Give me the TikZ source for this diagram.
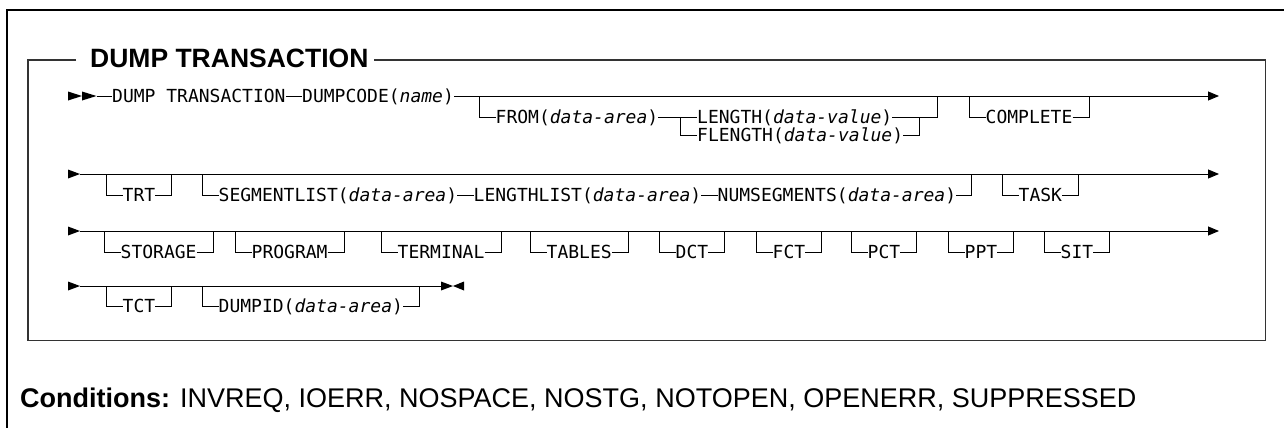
\documentclass[tikz,border=0pt]{standalone}
\usepackage{fontspec}
\setmainfont{Liberation Sans}
\newfontfamily\diagmono{DejaVu Sans Mono}
\usetikzlibrary{arrows.meta,calc}
\newcommand\optitem[5]{%
  \node[kw] (#1) at (#2,#3) {#4};
  \draw[ln] (#1.west) -- ++(-16.5,0) -- ++(0,-#5);
  \draw[ln] (#1.east) -- ++(16.5,0) -- ++(0,-#5);}
\begin{document}
\begin{tikzpicture}[x=1pt,y=-1pt,
  ln/.style={line width=0.9pt},
  kw/.style={font=\diagmono\fontsize{18pt}{18pt}\selectfont, inner sep=0pt, text height=13.1pt, text depth=0pt, anchor=west},
  endarr/.style={-{Triangle[length=11pt,width=9pt]}},
  frame/.style={line width=1.3pt, draw=black!80},
  outer/.style={line width=1.6pt, draw=black},
  tri/.style={fill=black}]
\useasboundingbox (0,0) rectangle (1284,428);
\fill[white] (0,0) rectangle (1284,428);
% outer frame
\draw[outer] (1284,10) -- (7,10) -- (7,428);
% title and inner frame
\node[font=\bfseries\fontsize{26.5pt}{26.5pt}\selectfont, inner sep=0pt, anchor=base west] (title) at (90,67.5) {DUMP TRANSACTION};
\coordinate (tl) at (28,60);
\coordinate (br) at (1265.5,340.5);
\draw[frame] ($(tl -| title.west)+(-14,0)$) -- (tl) -- (tl |- br) -- (br) -- (br |- tl) -- ($(tl -| title.east)+(5,0)$);

% ---------- row 1
\fill[tri] (68,91.5) -- (82,96) -- (68,100.5) -- cycle;
\fill[tri] (82,91.5) -- (96.5,96) -- (82,100.5) -- cycle;
\coordinate (s1) at (96.5,96);
\coordinate (e1) at (1219,96);
\node[kw] (dt) at (112,96) {DUMP TRANSACTION};
\node[kw] (dc) at (302,96) {DUMPCODE(\textit{name})};
\draw[ln] (s1) -- (dt.west);
\draw[ln] (dt.east) -- (dc.west);
\draw[ln,endarr] (dc.east) -- (e1);
\node[kw] (from) at (495.5,117) {FROM(\textit{data-area})};
\draw[ln] (from.west) -- ++(-16.5,0) -- ++(0,-21);
\node[kw] (len) at (697,117) {LENGTH(\textit{data-value})};
\node[kw] (flen) at (697,135) {FLENGTH(\textit{data-value})};
\coordinate (lr) at (937,96);
\draw[ln] (from.east) -- (len.west);
\draw[ln] (flen.west) -- ++(-17,0) -- ++(0,-18);
\draw[ln] (len.east) -| (lr);
\draw[ln] (flen.east) -- ++(16.5,0) -- ++(0,-18);
\optitem{cmp}{985.5}{117}{COMPLETE}{21}

% ---------- row 2
\fill[tri] (68,169.5) -- (80,174) -- (68,178.5) -- cycle;
\coordinate (s2) at (80,174);
\coordinate (e2) at (1219,174);
\draw[ln,endarr] (s2) -- (e2);
\optitem{trt}{122.5}{195}{TRT}{21}
\node[kw] (seg) at (218.5,195) {SEGMENTLIST(\textit{data-area})};
\node[kw] (ll) at (473.5,195) {LENGTHLIST(\textit{data-area})};
\node[kw] (ns) at (717.5,195) {NUMSEGMENTS(\textit{data-area})};
\draw[ln] (seg.west) -- ++(-16.5,0) -- ++(0,-21);
\draw[ln] (seg.east) -- (ll.west);
\draw[ln] (ll.east) -- (ns.west);
\draw[ln] (ns.east) -- ++(15,0) -- ++(0,-21);
\optitem{task}{1018.5}{195}{TASK}{21}

% ---------- row 3
\fill[tri] (68,226.5) -- (80,231) -- (68,235.5) -- cycle;
\coordinate (s3) at (80,231);
\coordinate (e3) at (1219,231);
\draw[ln,endarr] (s3) -- (e3);
\optitem{sto}{120.5}{252}{STORAGE}{21}
\optitem{prg}{251.5}{252}{PROGRAM}{21}
\optitem{ter}{397.5}{252}{TERMINAL}{21}
\optitem{tab}{546.5}{252}{TABLES}{21}
\optitem{dct}{675.5}{252}{DCT}{21}
\optitem{fct}{772.5}{252}{FCT}{21}
\optitem{pct}{867.5}{252}{PCT}{21}
\optitem{ppt}{964.5}{252}{PPT}{21}
\optitem{sit}{1060.5}{252}{SIT}{21}

% ---------- row 4
\fill[tri] (68,281.5) -- (80,286) -- (68,290.5) -- cycle;
\coordinate (s4) at (80,286);
\coordinate (e4) at (441,286);
\draw[ln] (s4) -- (e4);
\fill[tri] (441,281.5) -- (453,286) -- (441,290.5) -- cycle;
\fill[tri] (464,281.5) -- (453,286) -- (464,290.5) -- cycle;
\optitem{tct}{122.5}{306}{TCT}{20}
\optitem{did}{218.5}{306}{DUMPID(\textit{data-area})}{20}

% ---------- conditions
\node[font=\fontsize{27pt}{27pt}\selectfont, inner sep=0pt, anchor=base west] (cond) at (20,407) {\textbf{Conditions:} INVREQ, IOERR, NOSPACE, NOSTG, NOTOPEN, OPENERR, SUPPRESSED};
\end{tikzpicture}
\end{document}
